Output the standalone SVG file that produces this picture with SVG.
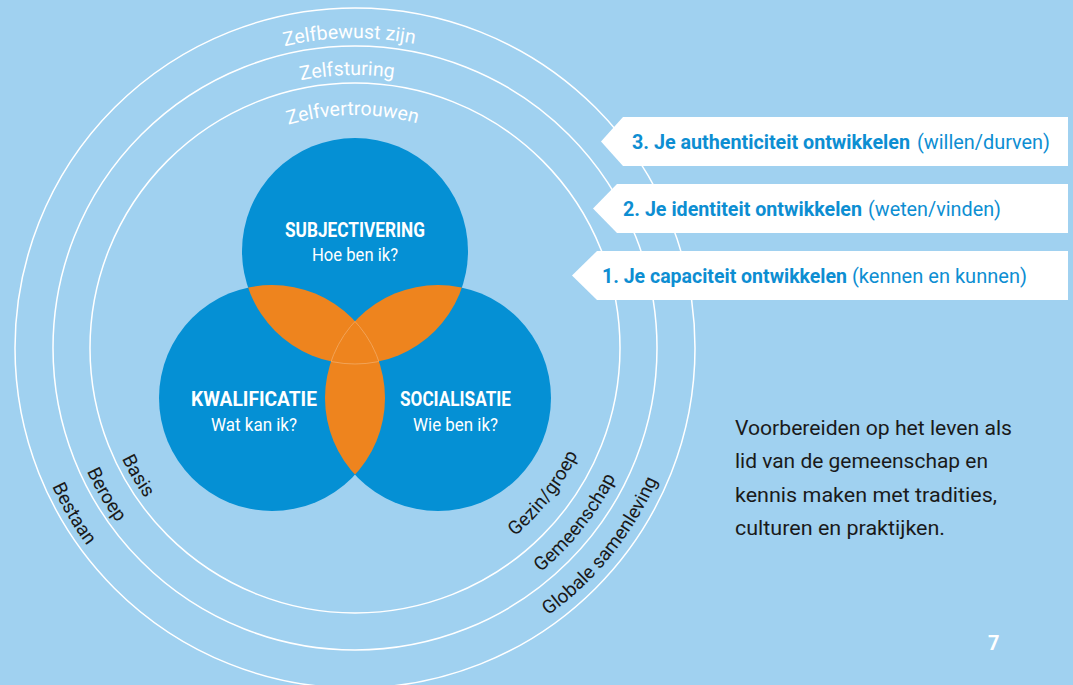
<svg xmlns="http://www.w3.org/2000/svg" width="1073" height="685" viewBox="0 0 1073 685">
<style>
.ring{fill:none;stroke:#fff;stroke-width:1.5}
.arcw{font-family:Roboto,"Liberation Sans",sans-serif;font-size:19.5px;fill:#fff}
.arck{font-family:Roboto,"Liberation Sans",sans-serif;font-size:19px;fill:#1a1a1a}
.vb{font-family:Roboto,"Liberation Sans",sans-serif;font-weight:bold;font-size:20px;fill:#fff;text-anchor:middle}
.vr{font-family:Roboto,"Liberation Sans",sans-serif;font-size:19px;fill:#fff;text-anchor:middle}
.bb{font-family:Roboto,"Liberation Sans",sans-serif;font-weight:bold;font-size:20px;fill:#0d8ed2}
.br{font-family:Roboto,"Liberation Sans",sans-serif;font-size:20px;fill:#0d8ed2}
.banner{fill:#fff}
.para{font-family:Roboto,"Liberation Sans",sans-serif;font-size:21px;fill:#1a1a1a}
.blue{fill:#0590d4}
.orange{fill:#ee841e}
.tri{fill:none;stroke:#f3ab66;stroke-width:0.8}
</style>
<defs>
<clipPath id="cT"><circle cx="355" cy="251" r="113"/></clipPath>
<clipPath id="cL"><circle cx="272" cy="398" r="113"/></clipPath>
<clipPath id="cR"><circle cx="438" cy="398" r="113"/></clipPath>
<path id="pZ1" d="M45,348 A310,310 0 0 1 665,348"/>
<path id="pZ2" d="M82,348 A273,273 0 0 1 628,348"/>
<path id="pZ3" d="M122,348 A233,233 0 0 1 588,348"/>
<path id="pBa" d="M111.8,261.9 A258,258 0 0 0 312.4,602.5"/>
<path id="pBe" d="M76.9,249.5 A295,295 0 0 0 306.3,639"/>
<path id="pBs" d="M41.1,236.8 A333,333 0 0 0 300.1,676.4"/>
<path id="pGz" d="M365.3,594.8 A247,247 0 0 0 596.2,295"/>
<path id="pGm" d="M363.1,638.9 A291,291 0 0 0 640.1,289.5"/>
<path id="pGl" d="M361.3,677.9 A330,330 0 0 0 678.8,284.5"/>
</defs>
<rect x="0" y="0" width="1073" height="685" fill="#a0d1f0"/>

<g id="rings">
<circle class="ring" cx="355" cy="348" r="340"/>
<circle class="ring" cx="355" cy="348" r="302"/>
<circle class="ring" cx="355" cy="348" r="265"/>
</g>

<g id="ring-labels">
<text class="arcw"><textPath href="#pZ1" startOffset="481" text-anchor="middle">Zelfbewust zijn</textPath></text>
<text class="arcw"><textPath href="#pZ2" startOffset="421" text-anchor="middle">Zelfsturing</textPath></text>
<text class="arcw"><textPath href="#pZ3" startOffset="363.5" text-anchor="middle">Zelfvertrouwen</textPath></text>
<text class="arck"><textPath href="#pBa" startOffset="50%" text-anchor="middle">Basis</textPath></text>
<text class="arck"><textPath href="#pBe" startOffset="50%" text-anchor="middle">Beroep</textPath></text>
<text class="arck"><textPath href="#pBs" startOffset="50%" text-anchor="middle">Bestaan</textPath></text>
<text class="arck"><textPath href="#pGz" startOffset="50%" text-anchor="middle">Gezin/groep</textPath></text>
<text class="arck"><textPath href="#pGm" startOffset="50%" text-anchor="middle">Gemeenschap</textPath></text>
<text class="arck"><textPath href="#pGl" startOffset="50%" text-anchor="middle">Globale samenleving</textPath></text>
</g>

<g id="venn">
<circle class="blue" cx="355" cy="251" r="113"/>
<circle class="blue" cx="272" cy="398" r="113"/>
<circle class="blue" cx="438" cy="398" r="113"/>
<g clip-path="url(#cT)"><circle class="orange" cx="272" cy="398" r="113"/><circle class="orange" cx="438" cy="398" r="113"/></g>
<g clip-path="url(#cL)"><circle class="orange" cx="438" cy="398" r="113"/></g>
<g clip-path="url(#cL)"><circle class="tri" cx="355" cy="251" r="113" clip-path="url(#cR)"/></g>
<g clip-path="url(#cT)"><circle class="tri" cx="272" cy="398" r="113" clip-path="url(#cR)"/></g>
<g clip-path="url(#cT)"><circle class="tri" cx="438" cy="398" r="113" clip-path="url(#cL)"/></g>
</g>

<g id="node-subjectivering">
<text class="vb" x="355" y="237" textLength="140" lengthAdjust="spacingAndGlyphs">SUBJECTIVERING</text>
<text class="vr" x="355" y="261" textLength="86" lengthAdjust="spacingAndGlyphs">Hoe ben ik?</text>
</g>
<g id="node-kwalificatie">
<text class="vb" x="254" y="406" textLength="126" lengthAdjust="spacingAndGlyphs">KWALIFICATIE</text>
<text class="vr" x="254" y="431" textLength="86" lengthAdjust="spacingAndGlyphs">Wat kan ik?</text>
</g>
<g id="node-socialisatie">
<text class="vb" x="455.5" y="406" textLength="111" lengthAdjust="spacingAndGlyphs">SOCIALISATIE</text>
<text class="vr" x="455.5" y="431" textLength="85" lengthAdjust="spacingAndGlyphs">Wie ben ik?</text>
</g>

<g id="banner-3">
<polygon class="banner" points="601,141.5 623,117 1068,117 1068,166 623,166"/>
<text class="bb" x="632" y="149" textLength="278" lengthAdjust="spacingAndGlyphs">3. Je authenticiteit ontwikkelen</text>
<text class="br" x="917" y="149" textLength="133" lengthAdjust="spacingAndGlyphs">(willen/durven)</text>
</g>
<g id="banner-2">
<polygon class="banner" points="593,208.5 617,184 1068,184 1068,233 617,233"/>
<text class="bb" x="623" y="216" textLength="239" lengthAdjust="spacingAndGlyphs">2. Je identiteit ontwikkelen</text>
<text class="br" x="868" y="216" textLength="133" lengthAdjust="spacingAndGlyphs">(weten/vinden)</text>
</g>
<g id="banner-1">
<polygon class="banner" points="572,275.5 597,251 1068,251 1068,300 597,300"/>
<text class="bb" x="602" y="283" textLength="245" lengthAdjust="spacingAndGlyphs">1. Je capaciteit ontwikkelen</text>
<text class="br" x="852" y="283" textLength="175" lengthAdjust="spacingAndGlyphs">(kennen en kunnen)</text>
</g>

<g id="description">
<text class="para" x="735" y="435" textLength="277" lengthAdjust="spacingAndGlyphs">Voorbereiden op het leven als</text>
<text class="para" x="735" y="468" textLength="253" lengthAdjust="spacingAndGlyphs">lid van de gemeenschap en</text>
<text class="para" x="735" y="502" textLength="262" lengthAdjust="spacingAndGlyphs">kennis maken met tradities,</text>
<text class="para" x="735" y="535" textLength="210" lengthAdjust="spacingAndGlyphs">culturen en praktijken.</text>
</g>

<g id="page-number">
<text x="988" y="650" font-family="Roboto, 'Liberation Sans', sans-serif" font-weight="bold" font-size="20" fill="#fff">7</text>
</g>
</svg>
